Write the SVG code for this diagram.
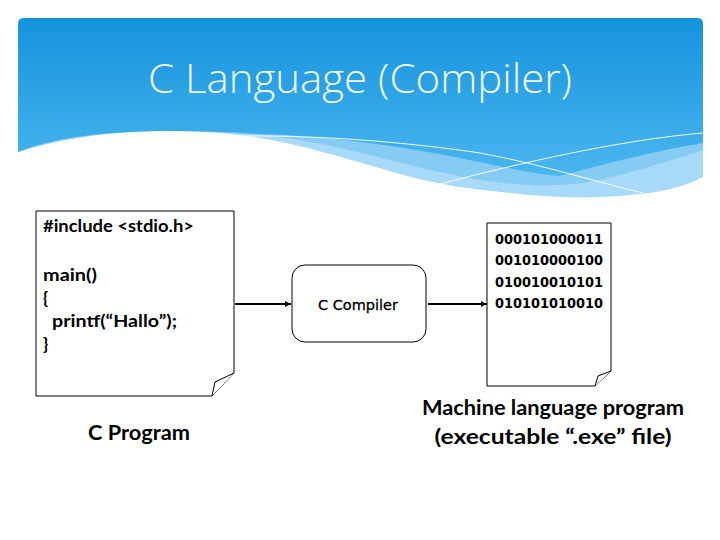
<svg xmlns="http://www.w3.org/2000/svg" width="720" height="540" viewBox="0 0 720 540">
  <style>
    .doc { fill: #ffffff; stroke: #000000; stroke-width: 1; }
    .code { font-family: Lato, "Liberation Sans", sans-serif; font-weight: bold; font-size: 17px; fill: #000000; }
    .bin { font-family: "DejaVu Sans", sans-serif; font-weight: bold; font-size: 13.5px; fill: #000000; }
    .label { font-family: Lato, "Liberation Sans", sans-serif; font-weight: bold; font-size: 20.5px; fill: #000000; text-anchor: middle; }
    .conn { stroke: #000000; stroke-width: 2; fill: none; marker-end: url(#arrow); }
    .wline { stroke: #ffffff; stroke-width: 1; fill: none; opacity: 0.9; }
  </style>
  <defs>
    <linearGradient id="hdr" x1="0" y1="0" x2="0" y2="1" gradientUnits="objectBoundingBox">
      <stop offset="0" stop-color="#1592dd"/>
      <stop offset="1" stop-color="#4ab6ee"/>
    </linearGradient>
    <marker id="arrow" viewBox="0 0 10 10" refX="10" refY="5" markerWidth="3.2" markerHeight="3.2" orient="auto" markerUnits="strokeWidth">
      <path d="M0,0 L10,5 L0,10 Z" fill="#000000"/>
    </marker>
  </defs>
  <rect width="720" height="540" fill="#ffffff"/>

  <g id="header">
    <path d="M18,152 V24 Q18,18 24,18 H697 Q703,18 703,24 V177 C690,184 670,191 640,194 C600,199 560,198 520,194 C480,190 440,186 400,174 C330,154 280,138 220,133 C180,130 140,130 100,134 C60,138 35,145 18,152 Z" fill="#a6daf8"/>
    <path d="M18,152 V24 Q18,18 24,18 H697 Q703,18 703,24 V150 C680,158 640,170 600,180 C560,188 520,186 480,180 C420,170 360,150 300,140 C260,134 200,130 150,131 C100,133 55,140 18,152 Z" fill="#86cbf3"/>
    <path d="M18,152 V24 Q18,18 24,18 H697 Q703,18 703,24 V143 C660,150 600,165 560,176 C530,174 490,164 460,158 C400,146 330,136 260,134 C200,130 140,130 100,134 C60,138 35,145 18,152 Z" fill="url(#hdr)"/>
    <path class="wline" d="M240,136 C330,135 420,144 480,153 C540,164 600,183 643,193"/>
    <path class="wline" d="M440,184 C520,163 620,140 703,133"/>
    <text x="360" y="93" font-family="'Open Sans', 'Liberation Sans', sans-serif" font-weight="300" font-size="41" fill="#f0f8fe" text-anchor="middle" textLength="424" lengthAdjust="spacingAndGlyphs">C Language (Compiler)</text>
  </g>

  <g id="connectors">
    <line class="conn" x1="235" y1="304" x2="291" y2="304"/>
    <line class="conn" x1="428" y1="304" x2="487" y2="304"/>
  </g>

  <g id="c-program">
    <path class="doc" d="M36,211 H234 V373 L212,396 H36 Z"/>
    <path class="doc" d="M234,373 L215,382 L212,396"/>
    <text class="code" x="43" y="232" textLength="151" lengthAdjust="spacingAndGlyphs">#include &lt;stdio.h&gt;</text>
    <text class="code" x="43" y="281" textLength="54" lengthAdjust="spacingAndGlyphs">main()</text>
    <text class="code" x="43" y="304">{</text>
    <text class="code" x="52" y="327" textLength="125" lengthAdjust="spacingAndGlyphs">printf(“Hallo”);</text>
    <text class="code" x="43" y="350">}</text>
    <text class="label" x="139" y="440" textLength="102" lengthAdjust="spacingAndGlyphs">C Program</text>
  </g>

  <g id="c-compiler">
    <rect x="292" y="265" width="134" height="77" rx="13" ry="13" fill="#ffffff" stroke="#000000" stroke-width="1"/>
    <text x="358" y="310" font-family="'DejaVu Sans', sans-serif" font-size="14" fill="#000000" stroke="#000000" stroke-width="0.3" text-anchor="middle" textLength="80" lengthAdjust="spacingAndGlyphs">C Compiler</text>
  </g>

  <g id="machine-code">
    <path class="doc" d="M487,223 H611 V371 L595,386 H487 Z"/>
    <path class="doc" d="M611,371 L598,376 L595,386"/>
    <text class="bin" x="495" y="244" textLength="108" lengthAdjust="spacingAndGlyphs">000101000011</text>
    <text class="bin" x="495" y="265" textLength="108" lengthAdjust="spacingAndGlyphs">001010000100</text>
    <text class="bin" x="495" y="287" textLength="108" lengthAdjust="spacingAndGlyphs">010010010101</text>
    <text class="bin" x="495" y="308" textLength="108" lengthAdjust="spacingAndGlyphs">010101010010</text>
    <text class="label" x="553" y="415" textLength="262" lengthAdjust="spacingAndGlyphs">Machine language program</text>
    <text class="label" x="553" y="444" textLength="237" lengthAdjust="spacingAndGlyphs">(executable “.exe” file)</text>
  </g>
</svg>
